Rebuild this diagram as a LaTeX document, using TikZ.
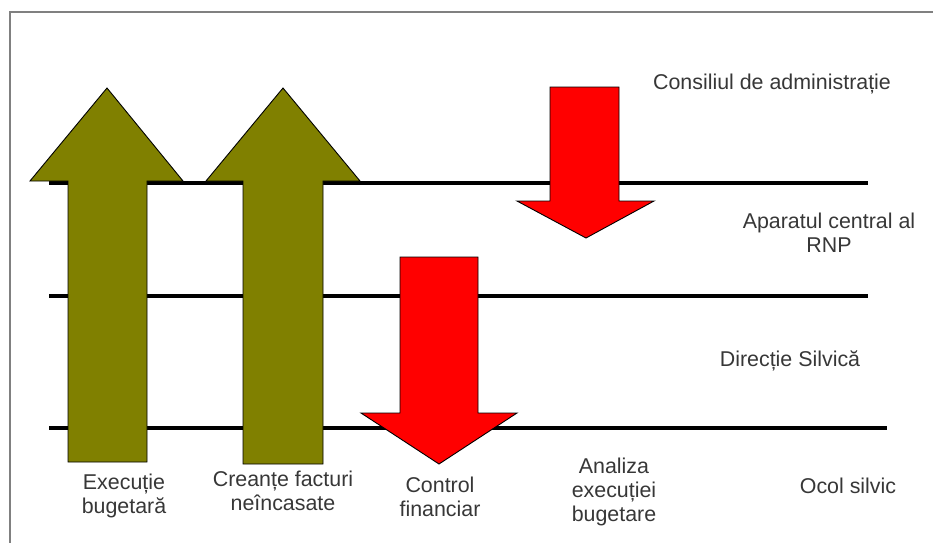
\documentclass[tikz,border=0pt]{standalone}
\usepackage{fontspec}
\setmainfont{Liberation Sans}
\definecolor{olivefill}{RGB}{128,128,0}
\definecolor{redfill}{RGB}{255,0,0}
\definecolor{labeltext}{RGB}{55,55,55}
\definecolor{framegray}{RGB}{128,128,128}
\begin{document}
\begin{tikzpicture}[x=1pt,y=-1pt,
  frameline/.style={draw=framegray, line width=1.6pt},
  levelline/.style={draw=black, line width=3.8pt},
  uparrow/.style={fill=olivefill, draw=black, line width=0.9pt, line join=miter},
  downarrow/.style={fill=redfill, draw=black, line width=0.9pt, line join=miter},
  lbl/.style={text=labeltext, font=\fontsize{21.4}{24}\selectfont, align=center, inner sep=0pt}]
\useasboundingbox (0,0) rectangle (933,543);

% outer frame (open to the right and bottom)
\draw[frameline] (933,12) -- (10,12) -- (10,543);

% hierarchy levels
\coordinate (l1a) at (49,183);  \coordinate (l1b) at (868,183);
\coordinate (l2a) at (49,296);  \coordinate (l2b) at (868,296);
\coordinate (l3a) at (49,428);  \coordinate (l3b) at (887,428);
\draw[levelline] (l1a) -- (l1b);
\draw[levelline] (l2a) -- (l2b);
\draw[levelline] (l3a) -- (l3b);

% upward flows
\draw[uparrow] (68,462) -- (68,181) -- (30,181) -- (107,88) -- (183,181)
  -- (147,181) -- (147,462) -- cycle;
\draw[uparrow] (243,464) -- (243,181) -- (206,181) -- (283,88) -- (360,181)
  -- (323,181) -- (323,464) -- cycle;

% downward flows
\draw[downarrow] (550,87) -- (619,87) -- (619,201) -- (654,201) -- (586,238)
  -- (517,201) -- (550,201) -- cycle;
\draw[downarrow] (400,257) -- (478,257) -- (478,413) -- (517,413) -- (439,464)
  -- (361,413) -- (400,413) -- cycle;

% level names
\node[lbl, anchor=base] (consiliu) at (772,89) {Consiliul de administrație};
\node[lbl, anchor=north] (aparat) at (829,213) {Aparatul central al\\RNP};
\node[lbl, anchor=base] (directie) at (790,366) {Direcție Silvică};
\node[lbl, anchor=base] (ocol) at (848,493) {Ocol silvic};

% flow names
\node[lbl, anchor=north] (executie) at (124,474) {Execuție\\bugetară};
\node[lbl, anchor=north] (creante) at (283,471) {Creanțe facturi\\neîncasate};
\node[lbl, anchor=north] (control) at (440,477) {Control\\financiar};
\node[lbl, anchor=north] (analiza) at (614,458) {Analiza\\execuției\\bugetare};
\end{tikzpicture}
\end{document}
